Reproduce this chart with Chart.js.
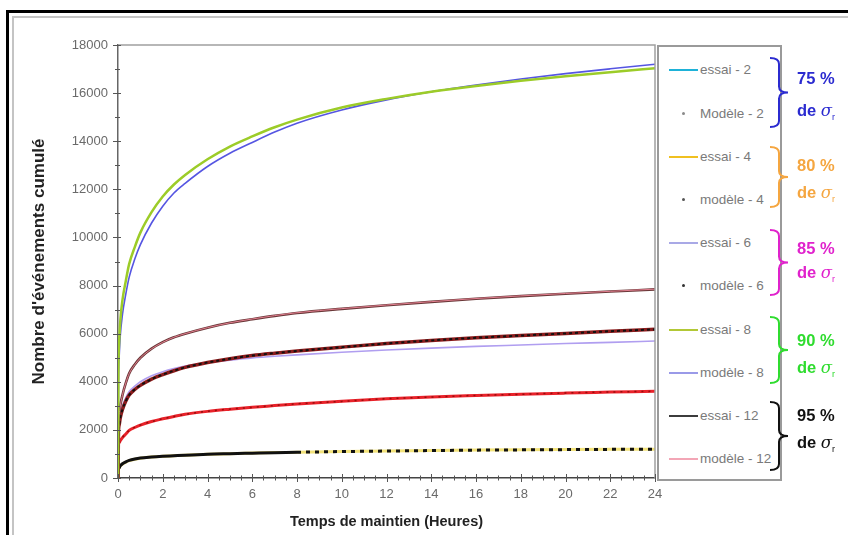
<!DOCTYPE html>
<html><head><meta charset="utf-8">
<script src="https://cdn.jsdelivr.net/npm/chart.js@4/dist/chart.umd.min.js"></script>
<style>
html,body{margin:0;padding:0;background:#fff;}
#wrap{position:relative;width:848px;height:535px;overflow:hidden;font-family:"Liberation Sans",Arial,sans-serif;background:#fff;}
#c{position:absolute;left:0;top:0;}
.blk{position:absolute;background:#000;}
.gry{position:absolute;background:#c4c4c4;}
#legend{position:absolute;left:657px;top:45px;width:121px;height:432px;border:2px solid #9a9a9a;background:#fff;}
.row{position:absolute;left:0;height:16px;width:121px;}
.sw{position:absolute;left:10px;top:7px;width:29px;height:2px;}
.dot{position:absolute;left:23px;top:6px;width:3px;height:3px;border-radius:2px;}
.lt{position:absolute;left:41px;top:0;font-size:13.5px;line-height:16px;color:#7a7a7a;white-space:nowrap;}
.pct{position:absolute;left:797px;font-weight:bold;font-size:16.5px;line-height:20px;white-space:nowrap;}
svg{position:absolute;left:0;top:0;}
</style></head>
<body><div id="wrap">
<canvas id="c" width="848" height="535"></canvas>
<div class="blk" style="left:6px;top:10px;width:3px;height:525px"></div>
<div class="blk" style="left:6px;top:10px;width:842px;height:3px"></div>
<div class="gry" style="left:12px;top:16px;width:2px;height:519px"></div>
<div class="gry" style="left:12px;top:16px;width:836px;height:2px"></div>
<div id="legend"></div>
<svg id="braces" width="848" height="535"></svg>
<div id="pcts"></div>
</div>
<script>
// ---- data ----
const timeHours = [0, 0.02, 0.05, 0.1, 0.2, 0.35, 0.5, 0.75, 1, 1.5, 2, 2.5, 3, 4, 5, 6, 7, 8, 10, 12, 14, 16, 18, 20, 22, 24];
const essai8  = [0, 4500, 5600, 6500, 7400, 8200, 8900, 9600, 10200, 11050, 11700, 12200, 12600, 13250, 13780, 14200, 14580, 14900, 15400, 15760, 16060, 16300, 16510, 16700, 16870, 17030];
const modele8 = [0, 4000, 5000, 5900, 6800, 7650, 8350, 9100, 9700, 10600, 11300, 11850, 12250, 12950, 13500, 13950, 14380, 14750, 15300, 15720, 16060, 16340, 16590, 16810, 17010, 17200];
const essai12 = [0, 2300, 2650, 3000, 3450, 3950, 4350, 4720, 5000, 5380, 5650, 5850, 6000, 6250, 6450, 6600, 6740, 6860, 7030, 7180, 7320, 7450, 7560, 7660, 7750, 7840];
const modele12= [0, 2280, 2640, 2990, 3440, 3950, 4340, 4710, 4990, 5370, 5640, 5850, 6000, 6250, 6450, 6610, 6750, 6870, 7040, 7190, 7330, 7460, 7570, 7670, 7760, 7850];
const modele6 = [0, 1900, 2200, 2500, 2850, 3200, 3450, 3680, 3850, 4110, 4300, 4460, 4600, 4800, 4960, 5090, 5190, 5280, 5440, 5590, 5720, 5830, 5920, 6010, 6100, 6180];
const essai6  = [0, 2000, 2350, 2700, 3000, 3340, 3600, 3820, 4000, 4250, 4420, 4550, 4650, 4800, 4900, 4990, 5060, 5120, 5225, 5320, 5400, 5470, 5530, 5590, 5640, 5695];
const essai2  = [0, 1400, 1470, 1550, 1680, 1830, 1980, 2100, 2200, 2350, 2460, 2560, 2650, 2770, 2860, 2940, 3010, 3080, 3190, 3290, 3370, 3430, 3485, 3530, 3570, 3610];
const modele2 = [0, 1390, 1460, 1545, 1690, 1840, 1975, 2110, 2205, 2345, 2465, 2555, 2645, 2775, 2865, 2935, 3015, 3085, 3185, 3295, 3365, 3435, 3480, 3535, 3575, 3605];
const essai4  = [0, 330, 410, 490, 580, 660, 720, 780, 820, 870, 900, 925, 950, 985, 1010, 1035, 1055, 1070, 1100, 1125, 1145, 1160, 1172, 1182, 1190, 1195];
const modele4 = [0, 350, 420, 500, 590, 670, 730, 790, 830, 870, 900, 925, 950, 990, 1012, 1032, 1052, 1070, 1100, 1120, 1140, 1158, 1170, 1180, 1190, 1195];

const legendLabels = ['essai - 2','Modèle - 2','essai - 4','modèle - 4','essai - 6','modèle - 6','essai - 8','modèle - 8','essai - 12','modèle - 12'];
const groupLabels = ['75 %','80 %','85 %','90 %','95 %'];

// ---- styles ----
const legendStyle = [
  {type:'line', color:'#1eb2d8'}, {type:'dot', color:'#8a8a8a'},
  {type:'line', color:'#f0c020'}, {type:'dot', color:'#555'},
  {type:'line', color:'#a9a9e6'}, {type:'dot', color:'#333'},
  {type:'line', color:'#b2c836'}, {type:'line', color:'#9a9ae8'},
  {type:'line', color:'#3c3c3c'}, {type:'line', color:'#f3a6b6'}
];
const groupColors = ['#2b2bd0','#f5a640','#e022cc','#2fdc2f','#111111'];

const pts = arr => timeHours.map((t,i)=>({x:t, y:arr[i]}));
const base = {pointRadius:0, fill:false, cubicInterpolationMode:'monotone'};
const datasets = [
  {...base, label:'essai - 8',  data:pts(essai8),  borderColor:'#9ccc28', borderWidth:2.5},
  {...base, label:'modèle - 8', data:pts(modele8), borderColor:'#5555e2', borderWidth:1.6},
  {...base, label:'modèle - 12',data:pts(modele12),borderColor:'#e27f90', borderWidth:1},
  {...base, label:'essai - 12', data:pts(essai12), borderColor:'#6a3838', borderWidth:2.6},
  {...base, label:'modèle - 6', data:pts(modele6), borderColor:'#111111', borderWidth:2, borderDash:[3,3]},
  {...base, label:'modèle - 6 (trait)', data:pts(modele6), borderColor:'#8c1c1c', borderWidth:3.5},
  {...base, label:'essai - 6',  data:pts(essai6),  borderColor:'#b09ef0', borderWidth:1.6},
  {...base, label:'Modèle - 2', data:pts(modele2), borderColor:'#9a0c0c', borderWidth:1.5, borderDash:[2,5]},
  {...base, label:'essai - 2',  data:pts(essai2),  borderColor:'#e8222a', borderWidth:3},
  {...base, label:'modèle - 4', data:pts(modele4), borderColor:'#111111', borderWidth:3,
     segment:{borderDash: c => c.p0.parsed.x >= 8 ? [4,5] : undefined}},
  {...base, label:'essai - 4',  data:pts(essai4),  borderColor:'#f2e27a', borderWidth:3}
];

const axisDecor = {
  id:'axisDecor',
  afterDraw(chart){
    const {ctx, chartArea:a, scales:{x, y}} = chart;
    ctx.save();
    ctx.strokeStyle = '#a0a0a0'; ctx.lineWidth = 1.5;
    ctx.beginPath(); ctx.moveTo(a.left, a.top); ctx.lineTo(a.right, a.top); ctx.lineTo(a.right, a.bottom); ctx.stroke();
    ctx.strokeStyle = '#555'; ctx.lineWidth = 1;
    ctx.beginPath();
    for (let v = x.min; v <= x.max + 1e-9; v += 0.5) {
      const p = Math.round(x.getPixelForValue(v)) + 0.5;
      const len = (v % 2 === 0) ? 4 : 2.5;
      ctx.moveTo(p, a.bottom - len); ctx.lineTo(p, a.bottom + len);
    }
    for (let v = y.min; v <= y.max + 1e-9; v += 1000) {
      const p = Math.round(y.getPixelForValue(v)) + 0.5;
      const major = (v % 2000 === 0);
      ctx.moveTo(a.left - (major ? 5 : 3), p); ctx.lineTo(a.left + (major ? 3 : 2), p);
    }
    ctx.stroke();
    ctx.restore();
  }
};

new Chart(document.getElementById('c'), {
  type:'line',
  data:{datasets},
  options:{
    responsive:false, animation:false, devicePixelRatio:1,
    layout:{padding:{left:20, right:193, top:45, bottom:0}},
    plugins:{legend:{display:false}, tooltip:{enabled:false}},
    scales:{
      x:{type:'linear', min:0, max:24,
         afterFit: s => { s.height = 57; },
         grid:{display:false, drawTicks:false},
         border:{display:true, color:'#444', width:1.5},
         ticks:{stepSize:2, padding:9, color:'#6a6a6a', font:{size:13, family:'"Liberation Sans", Arial'}},
         title:{display:true, text:'Temps de maintien (Heures)', color:'#222', font:{size:14.5, weight:'bold', family:'"Liberation Sans", Arial'}, padding:{top:0,bottom:4}}},
      y:{type:'linear', min:0, max:18000,
         afterFit: s => { s.width = 98; },
         grid:{display:false, drawTicks:false},
         border:{display:true, color:'#666', width:1.5},
         ticks:{stepSize:2000, padding:10, color:'#6a6a6a', font:{size:13, family:'"Liberation Sans", Arial'}, callback: v => String(v)},
         title:{display:true, text:"Nombre d'événements cumulé", color:'#222', font:{size:17, weight:'bold', family:'"Liberation Sans", Arial'}, padding:{top:9,bottom:0}}}
    }
  },
  plugins:[axisDecor]
});

// ---- legend (HTML) ----
const leg = document.getElementById('legend');
legendLabels.forEach((lab, i) => {
  const row = document.createElement('div');
  row.className = 'row';
  row.style.top = (23.3 + 43.2*i - 8) + 'px';
  const st = legendStyle[i];
  const m = document.createElement('div');
  m.className = st.type === 'line' ? 'sw' : 'dot';
  m.style.background = st.color;
  row.appendChild(m);
  const t = document.createElement('div');
  t.className = 'lt'; t.textContent = lab;
  row.appendChild(t);
  leg.appendChild(row);
});

// ---- braces + group labels ----
const braceSpans = [[58,127],[147,207],[230,295],[317,383],[402,470]];
const pctTop = [[78,110],[165,192],[248,272],[340,367],[415,442]];
const svg = document.getElementById('braces');
let s = '';
braceSpans.forEach(([y1,y2], i) => {
  const x0 = 770, xm = 779, x1 = 788, ym = (y1+y2)/2, r = 6;
  s += `<path d="M${x0},${y1} Q${xm},${y1} ${xm},${y1+r} L${xm},${ym-r} Q${xm},${ym} ${x1},${ym} Q${xm},${ym} ${xm},${ym+r} L${xm},${y2-r} Q${xm},${y2} ${x0},${y2}" fill="none" stroke="${groupColors[i]}" stroke-width="2"/>`;
});
svg.innerHTML = s;
const pc = document.getElementById('pcts');
groupLabels.forEach((g, i) => {
  const a = document.createElement('div');
  a.className = 'pct'; a.style.color = groupColors[i];
  a.style.top = (pctTop[i][0] - 10) + 'px'; a.textContent = g;
  pc.appendChild(a);
  const b = document.createElement('div');
  b.className = 'pct'; b.style.color = groupColors[i];
  b.style.top = (pctTop[i][1] - 10) + 'px';
  b.innerHTML = 'de <span style="font-family:\'DejaVu Serif\',serif;font-style:italic;font-weight:normal">σ</span><sub style="font-size:9px;font-weight:normal">r</sub>';
  pc.appendChild(b);
});
</script>
</body></html>
